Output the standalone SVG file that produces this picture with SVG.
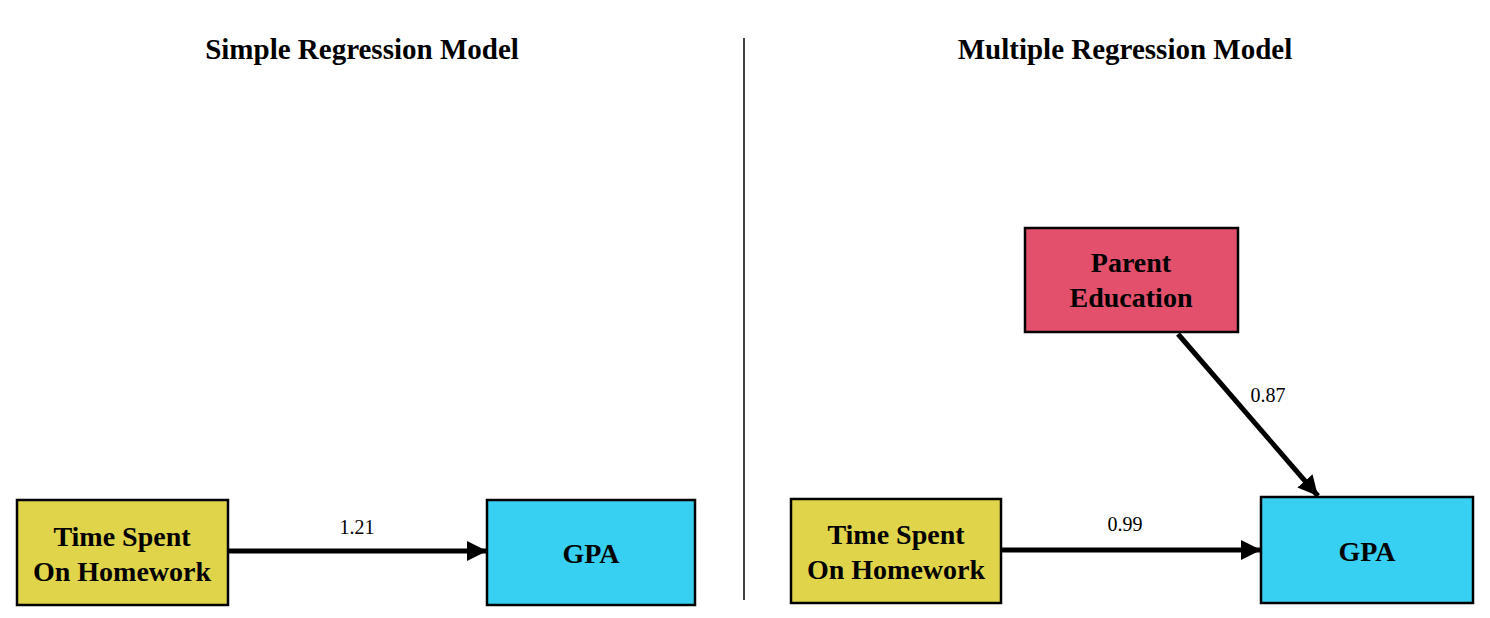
<svg xmlns="http://www.w3.org/2000/svg" width="1490" height="618" viewBox="0 0 1490 618">
<style>
.box{stroke:#000;stroke-width:2.5}
.y{fill:#E0D44A}.b{fill:#38D0F2}.r{fill:#E2506C}
.t{font-family:"Liberation Serif",serif;font-weight:bold;font-size:28px;fill:#000;text-anchor:middle}
.h{font-family:"Liberation Serif",serif;font-weight:bold;font-size:29px;fill:#000;text-anchor:middle}
.l{font-family:"Liberation Serif",serif;font-size:20px;fill:#000;text-anchor:middle}
.c{stroke:#000;stroke-width:5;fill:none}
</style>
<defs>
<marker id="ah" viewBox="0 0 10 10" refX="10" refY="5" markerWidth="4" markerHeight="4" orient="auto" markerUnits="strokeWidth">
<path d="M0,0L10,5L0,10z" fill="#000"/>
</marker>
</defs>
<rect width="1490" height="618" fill="#fff"/>
<g id="titles">
<text class="h" x="362" y="59">Simple Regression Model</text>
<text class="h" x="1125" y="59">Multiple Regression Model</text>
<line x1="744" y1="38" x2="744" y2="600" stroke="#000" stroke-width="1.5"/>
</g>
<g id="connectors">
<line class="c" x1="229" y1="551" x2="487" y2="551" marker-end="url(#ah)"/>
<line class="c" x1="1002" y1="550" x2="1261" y2="550" marker-end="url(#ah)"/>
<line class="c" x1="1178" y1="334" x2="1318" y2="496" marker-end="url(#ah)"/>
<text class="l" x="357" y="534">1.21</text>
<text class="l" x="1125" y="531">0.99</text>
<text class="l" x="1268" y="402">0.87</text>
</g>
<g id="time1">
<rect class="box y" x="17" y="500" width="211" height="105"/>
<text class="t" x="122" y="546">Time Spent</text>
<text class="t" x="122" y="581">On Homework</text>
</g>
<g id="gpa1">
<rect class="box b" x="487" y="500" width="208" height="105"/>
<text class="t" x="591" y="563">GPA</text>
</g>
<g id="time2">
<rect class="box y" x="791" y="499" width="210" height="104"/>
<text class="t" x="896" y="544">Time Spent</text>
<text class="t" x="896" y="579">On Homework</text>
</g>
<g id="gpa2">
<rect class="box b" x="1261" y="497" width="212" height="106"/>
<text class="t" x="1367" y="561">GPA</text>
</g>
<g id="parent">
<rect class="box r" x="1025" y="228" width="213" height="104"/>
<text class="t" x="1131" y="272">Parent</text>
<text class="t" x="1131" y="307">Education</text>
</g>
</svg>
